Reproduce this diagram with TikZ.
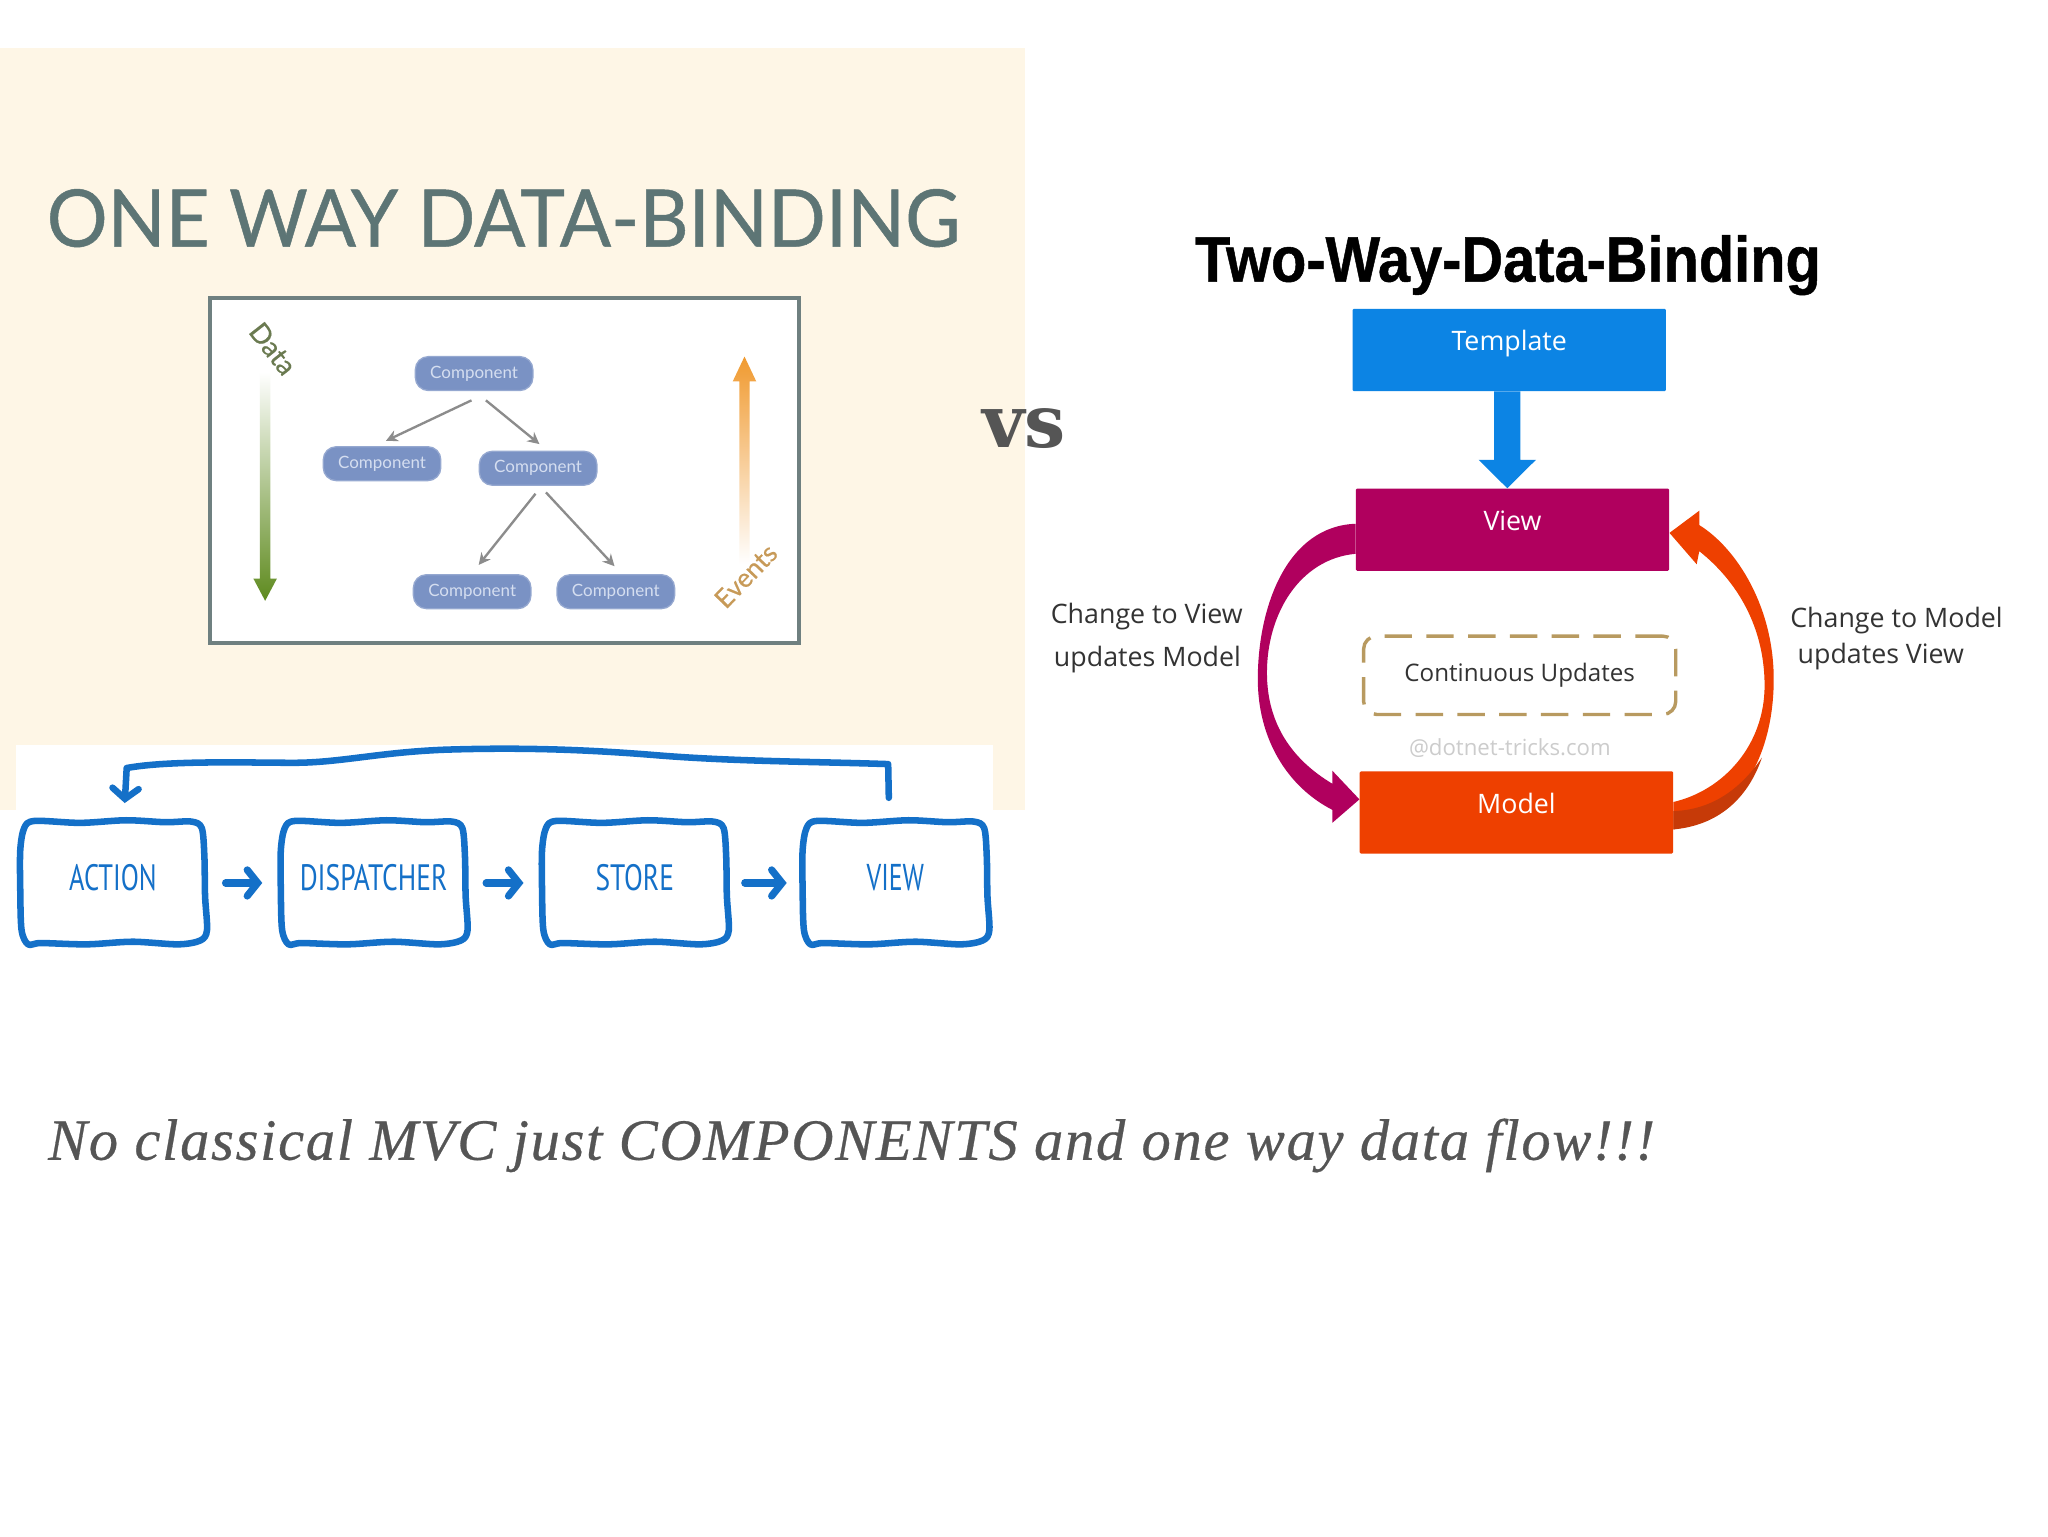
\documentclass[tikz,border=0pt]{standalone}
\usepackage{fontspec}
\usepackage{graphicx}
\usetikzlibrary{arrows.meta}
\setmainfont{Open Sans}
\newfontfamily\latofont{Lato}
\newfontfamily\latoheavy{Lato}[FakeBold=0.6]
\newfontfamily\ptfont{PT Sans}
\newfontfamily\narrowbold{Liberation Sans}[BoldFont={Liberation Sans Bold},BoldFeatures={FakeBold=0.8}]
\newfontfamily\vsfont{DejaVu Serif}
\newfontfamily\itfont{Liberation Serif}[ItalicFeatures={FakeBold=0.5,LetterSpace=3}]
\definecolor{beige}{HTML}{FEF6E6}
\definecolor{titlegray}{HTML}{5D7575}
\definecolor{framegray}{HTML}{6F8080}
\definecolor{compblue}{HTML}{7A92C4}
\definecolor{complight}{HTML}{D5DEF0}
\definecolor{arrowgray}{HTML}{8C8C8C}
\definecolor{datagreen}{HTML}{5E8A1E}
\definecolor{datatext}{HTML}{6A7A50}
\definecolor{eventorange}{HTML}{F09A30}
\definecolor{eventtext}{HTML}{C79A58}
\definecolor{sketchblue}{HTML}{1470C8}
\definecolor{tplblue}{HTML}{0C84E4}
\definecolor{viewmag}{HTML}{B0005E}
\definecolor{modelor}{HTML}{EE4000}
\definecolor{modeldark}{HTML}{C63A08}
\definecolor{dashtan}{HTML}{B89A60}
\definecolor{textgray}{HTML}{555555}
\definecolor{bodytext}{HTML}{333333}
\tikzset{
  compnode/.style={fill=compblue,draw=compblue!80!white,line width=1pt,rounded corners=10pt,
    minimum width=90pt,minimum height=26pt,inner sep=0pt,text=complight,font=\latofont\fontsize{13}{15}\selectfont},
  comparrow/.style={draw=arrowgray,line width=1.8pt,-{Stealth[length=9pt,width=9pt]}},
  sketchbox/.style={minimum width=142pt,minimum height=96pt,inner sep=0pt,text=sketchblue},
  sketchline/.style={draw=sketchblue,line width=5pt,line cap=round,line join=round},
  sketchtip/.style={-{Straight Barb[length=8pt,width=20pt,line cap=round]}},
  flatbox/.style={minimum width=240pt,minimum height=63pt,inner sep=0pt,text=white,rounded corners=1pt,
    font=\fontsize{20.5}{24}\selectfont},
  bodylabel/.style={inner sep=0pt,text=bodytext,font=\fontsize{20.5}{24}\selectfont},
}
\newcommand{\sketchtext}[2]{\raisebox{9pt}{\resizebox{#1pt}{20pt}{\ptfont #2}}}
\newcommand{\sketchframe}[1]{%
  \begin{scope}[shift={(#1.center)}]
  \draw[sketchline] plot[smooth cycle,tension=.5] coordinates {(-60,-47.5) (-25,-46) (10,-48) (40,-46.5) (60,-47) (68,-42) (70,-20) (70.5,10) (72,36) (67,44) (50,47) (15,45) (-20,47) (-55,46) (-65,47) (-70,36) (-71,5) (-71,-25) (-68,-42)};
  \end{scope}}
\begin{document}
\begin{tikzpicture}[x=1pt,y=-1pt]
\useasboundingbox (0,0) rectangle (1568,1176);
% panels
\fill[white] (0,0) rectangle (1568,1176);
\fill[beige] (0,37) rectangle (785,620);
\fill[white] (12,570) rectangle (760,620);
% one-way title
\node[inner sep=0pt,text=titlegray] (onetitle) at (385.5,167) {\resizebox{699pt}{44pt}{\latoheavy ONE WAY DATA-BINDING}};
% framed tree
\node[draw=framegray,fill=white,line width=3pt,minimum width=451pt,minimum height=264pt,inner sep=0pt] (frame) at (386,360) {};
\node[compnode] (ctop) at (363,286) {\raisebox{-1pt}{Component}};
\node[compnode] (cleft) at (292.5,355) {\raisebox{-1pt}{Component}};
\node[compnode] (cmid) at (412,358.5) {\raisebox{-1pt}{Component}};
\node[compnode] (cbl) at (361.5,453) {\raisebox{-1pt}{Component}};
\node[compnode] (cbr) at (471.5,453) {\raisebox{-1pt}{Component}};
\draw[comparrow] ([xshift=-2pt,yshift=-7pt]ctop.south) -- ([xshift=3pt,yshift=4pt]cleft.north);
\draw[comparrow] ([xshift=9pt,yshift=-7pt]ctop.south) -- ([xshift=1pt,yshift=5pt]cmid.north);
\draw[comparrow] ([xshift=-2pt,yshift=-6pt]cmid.south) -- ([xshift=5pt,yshift=7pt]cbl.north);
\draw[comparrow] ([xshift=6pt,yshift=-5pt]cmid.south) -- ([xshift=-1pt,yshift=6pt]cbr.north);
% data / events gradient arrows
\shade[top color=white,bottom color=datagreen]
  (199,285) -- (207,285) -- (207,443) -- (212,443) -- (203,460) -- (194,443) -- (199,443) -- cycle;
\shade[bottom color=white,top color=eventorange]
  (566,432) -- (574,432) -- (574,292) -- (579,292) -- (570,273) -- (561,292) -- (566,292) -- cycle;
\node[rotate=-52,inner sep=0pt,text=datatext,font=\latoheavy\fontsize{21}{23}\selectfont] (datalab) at (209,267) {Data};
\node[rotate=46,inner sep=0pt,text=eventtext,font=\latoheavy\fontsize{20}{22}\selectfont] (eventlab) at (571,441) {Events};
% sketch flow
\node[sketchbox] (action) at (86.5,676) {\sketchtext{67}{ACTION}};
\node[sketchbox] (dispatcher) at (286,676) {\sketchtext{113}{DISPATCHER}};
\node[sketchbox] (store) at (486,676) {\sketchtext{60}{STORE}};
\node[sketchbox] (viewbox) at (685.5,676) {\sketchtext{44}{VIEW}};
\sketchframe{action}
\sketchframe{dispatcher}
\sketchframe{store}
\sketchframe{viewbox}
\draw[sketchline,line width=5.5pt,sketchtip] ([xshift=15pt]action.east) -- ([xshift=-14pt]dispatcher.west);
\draw[sketchline,line width=5.5pt,sketchtip] ([xshift=15pt]dispatcher.east) -- ([xshift=-14pt]store.west);
\draw[sketchline,line width=5.5pt,sketchtip] ([xshift=13pt]store.east) -- ([xshift=-12pt]viewbox.west);
\coordinate (loopstart) at ([xshift=-5pt,yshift=17pt]viewbox.north);
\coordinate (loopend) at ([xshift=9pt,yshift=13pt]action.north);
\draw[sketchline,sketchtip] (loopstart) -- (680,585)
  .. controls (620,583) and (560,583) .. (500,578)
  .. controls (450,574) and (400,572) .. (340,574)
  .. controls (290,576) and (260,584) .. (225,584)
  .. controls (190,584) and (130,582) .. (97,588)
  -- (loopend);
% vs
\node[inner sep=0pt,text=textgray] (vs) at (784,328) {\resizebox{64pt}{!}{\vsfont\bfseries vs}};
% two-way title
\node[inner sep=0pt,text=black] (twotitle) at (1154.5,203) {\resizebox*{479pt}{46pt}{\narrowbold\bfseries Two-Way-Data-Binding}};
% two-way boxes
\node[flatbox,fill=tplblue] (template) at (1155.5,268) {\raisebox{15pt}{Template}};
\node[flatbox,fill=viewmag] (view) at (1158,405.5) {\raisebox{14pt}{View}};
\node[flatbox,fill=modelor] (model) at (1161,622) {\raisebox{14pt}{Model}};
\node[draw=dashtan,rounded corners=10pt,line width=2.6pt,dash pattern=on 21pt off 11pt,
  minimum width=239pt,minimum height=60pt,inner sep=0pt,text=bodytext,font=\fontsize{18.5}{22}\selectfont] (updates) at (1163.5,517) {\raisebox{2pt}{Continuous Updates}};
\node[inner sep=0pt,text=black!20,font=\fontsize{17}{20}\selectfont] (mark) at (1156,573) {@dotnet-tricks.com};
% template to view arrow
\coordinate (tt) at ([xshift=-1.5pt]template.south);
\coordinate (vt) at ([xshift=-4pt]view.north);
\fill[tplblue] ([xshift=-10pt]tt) -- ([xshift=10pt]tt) -- (1164,352) -- (1176,352) -- (vt) -- (1132,352) -- (1144,352) -- cycle;
% view to model
\coordinate (vw1) at ([yshift=4.5pt]view.west);
\coordinate (vw2) at ([yshift=-18.5pt]view.west);
\coordinate (mwtip) at ([yshift=10pt]model.west);
\fill[viewmag] (vw1) .. controls (985,403) and (963,465) .. (963,520)
  .. controls (963,565) and (985,602) .. (1020,620)
  -- (1020,630) -- (mwtip) -- (1020,590) -- (1020,600)
  .. controls (990,582) and (970,555) .. (970,515)
  .. controls (970,470) and (995,428) .. (vw2) -- cycle;
% model to view
\coordinate (me1) at ([yshift=8pt]model.east);
\coordinate (me2) at ([yshift=-13pt]model.east);
\coordinate (vetip) at ([yshift=-2.5pt]view.east);
\fill[modelor] (me1) .. controls (1320,605) and (1351,570) .. (1351,525)
  .. controls (1351,480) and (1330,445) .. (1301,422)
  -- (1299,432) -- (vetip) -- (1301,391) -- (1301,402)
  .. controls (1330,420) and (1358,465) .. (1358,520)
  .. controls (1358,580) and (1330,628) .. (me2) -- cycle;
\fill[modeldark] (me2) .. controls (1315,632) and (1338,612) .. (1349,580)
  .. controls (1332,605) and (1310,620) .. ([yshift=1pt]model.east) -- cycle;
% side labels
\node[bodylabel] (l1) at (878,472) {Change to View};
\node[bodylabel] (l2) at (878.5,505) {updates Model};
\node[bodylabel] (r1) at (1452,475) {Change to Model};
\node[bodylabel] (r2) at (1440,503) {updates View};
% footer
\node[inner sep=0pt,text=textgray] (footer) at (652,877) {\resizebox{1230pt}{!}{\itfont\itshape No classical MVC just COMPONENTS and one way data flow!!!}};
\end{tikzpicture}
\end{document}
